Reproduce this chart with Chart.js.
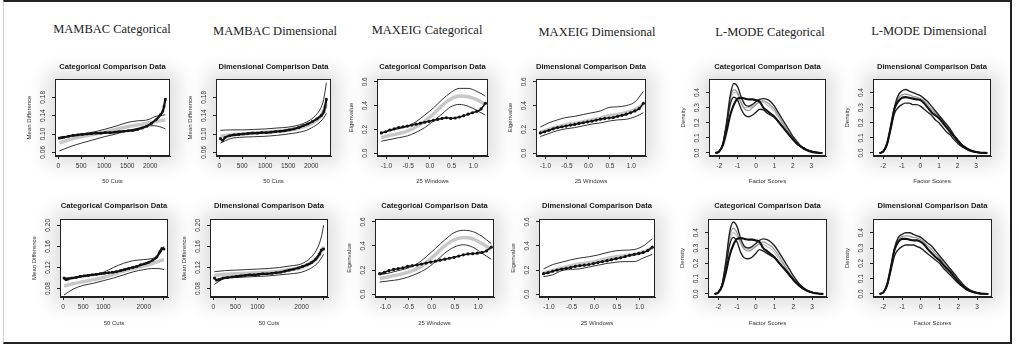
<!DOCTYPE html>
<html><head><meta charset="utf-8">
<script src="https://cdn.jsdelivr.net/npm/chart.js@4.4.1/dist/chart.umd.min.js"></script>
<style>
html,body{margin:0;padding:0;background:#fff;width:1019px;height:352px;overflow:hidden;position:relative}
.frame{position:absolute;left:3px;top:0;width:1006px;height:340px;border-top:2px solid #222;border-right:2px solid #222;border-bottom:2px solid #222;border-left:1px solid #d0d0d0}
.big{position:absolute;font-family:'Liberation Serif','Times New Roman',serif;font-size:12.5px;color:#222;transform:translate(-50%,-50%);white-space:nowrap}
.halo{position:absolute;box-shadow:0 0 18px 8px rgba(0,0,0,0.13)}
canvas{position:absolute}
</style></head><body>
<div class="frame"></div>
<script>
// ---------- DATA ----------
const bigTitles = ['MAMBAC Categorical','MAMBAC Dimensional','MAXEIG Categorical','MAXEIG Dimensional','L-MODE Categorical','L-MODE Dimensional'];

// MAMBAC, row 1
const mambacX1 = [25,75,125,225,325,425,525,625,725,825,925,1025,1125,1225,1325,1425,1525,1625,1725,1825,1925,2025,2125,2225,2275,2300,2330];
const mambacEnvX1 = [25,250,500,750,1000,1250,1500,1750,1900,2000,2100,2200,2270,2330];
const mcCatBlack1 = [0.091,0.092,0.093,0.095,0.097,0.098,0.099,0.100,0.101,0.102,0.102,0.103,0.103,0.104,0.105,0.106,0.107,0.108,0.110,0.113,0.117,0.123,0.131,0.142,0.150,0.160,0.176];
const mcCatUpper1 = [0.090,0.095,0.100,0.104,0.110,0.117,0.125,0.129,0.130,0.133,0.138,0.140,0.141,0.142];
const mcCatGray1  = [0.080,0.088,0.094,0.099,0.104,0.110,0.116,0.120,0.123,0.125,0.127,0.129,0.130,0.131];
const mcCatLower1 = [0.063,0.072,0.080,0.087,0.094,0.100,0.107,0.113,0.117,0.118,0.118,0.116,0.114,0.111];
const mcDimBlack1 = [0.090,0.086,0.092,0.096,0.098,0.099,0.100,0.101,0.102,0.102,0.103,0.103,0.104,0.105,0.106,0.107,0.109,0.111,0.114,0.118,0.122,0.127,0.133,0.141,0.149,0.159,0.176];
const mcDimUpper1 = [0.108,0.109,0.109,0.110,0.111,0.113,0.115,0.120,0.126,0.132,0.141,0.155,0.175,0.212];
const mcDimGray1  = [0.095,0.098,0.100,0.102,0.104,0.106,0.109,0.113,0.118,0.123,0.129,0.138,0.150,0.165];
const mcDimLower1 = [0.080,0.090,0.093,0.094,0.095,0.097,0.100,0.104,0.108,0.113,0.119,0.127,0.135,0.145];
const mcXTicks1 = [0,500,1000,1500,2000];
const mcXLabels1 = ['0','500','1000','1500','2000'];
const mcYTicks1 = [0.06,0.10,0.14,0.18];
const mcYLabels1 = ['0.06','0.10','0.14','0.18'];

// MAMBAC, row 2
const mambacX2 = [25,75,125,225,325,425,525,625,725,825,925,1025,1125,1225,1325,1425,1525,1625,1725,1825,1925,2025,2125,2225,2325,2400,2450,2500];
const mambacEnvX2 = [25,250,500,750,1000,1250,1500,1750,2000,2200,2350,2450,2500];
const mcCatBlack2 = [0.100,0.097,0.098,0.100,0.101,0.103,0.104,0.105,0.106,0.107,0.108,0.109,0.110,0.111,0.112,0.114,0.116,0.118,0.120,0.122,0.125,0.127,0.130,0.134,0.140,0.150,0.156,0.155];
const mcCatUpper2 = [0.100,0.101,0.103,0.106,0.111,0.120,0.128,0.133,0.135,0.137,0.142,0.152,0.160];
const mcCatGray2  = [0.085,0.089,0.093,0.097,0.101,0.107,0.113,0.118,0.123,0.127,0.131,0.134,0.135];
const mcCatLower2 = [0.068,0.079,0.086,0.090,0.095,0.100,0.106,0.112,0.116,0.118,0.118,0.117,0.116];
const mcDimBlack2 = [0.100,0.096,0.097,0.100,0.101,0.102,0.103,0.104,0.105,0.106,0.106,0.107,0.108,0.108,0.109,0.110,0.111,0.113,0.115,0.117,0.119,0.122,0.125,0.129,0.136,0.145,0.153,0.155];
const mcDimUpper2 = [0.112,0.114,0.115,0.116,0.117,0.118,0.120,0.123,0.127,0.138,0.155,0.178,0.200];
const mcDimGray2  = [0.105,0.107,0.108,0.109,0.110,0.111,0.113,0.116,0.120,0.128,0.138,0.150,0.160];
const mcDimLower2 = [0.088,0.099,0.101,0.102,0.103,0.104,0.106,0.108,0.111,0.118,0.127,0.138,0.145];
const mcXTicks2 = [0,500,1000,1500,2000,2500];
const mcXLabels2 = ['0','500','1000','','2000',''];
const mcYTicks2 = [0.08,0.12,0.16,0.20];
const mcYLabels2 = ['0.08','0.12','0.16','0.20'];

// MAXEIG
const maxeigX = [-1.12,-1.02,-0.92,-0.82,-0.72,-0.62,-0.52,-0.42,-0.32,-0.22,-0.12,-0.02,0.08,0.18,0.28,0.38,0.48,0.58,0.68,0.78,0.88,0.98,1.08,1.18,1.28];
const maxeigEnvX = [-1.12,-0.92,-0.72,-0.52,-0.32,-0.12,0.08,0.28,0.48,0.68,0.88,1.08,1.28];
const meCatBlack1 = [0.170,0.180,0.195,0.205,0.215,0.222,0.228,0.236,0.244,0.252,0.260,0.268,0.276,0.284,0.292,0.298,0.292,0.296,0.304,0.315,0.328,0.340,0.352,0.372,0.420];
const meCatUpper1 = [0.170,0.190,0.205,0.225,0.265,0.320,0.380,0.450,0.510,0.545,0.545,0.520,0.480];
const meCatGray1  = [0.130,0.150,0.165,0.185,0.220,0.270,0.330,0.400,0.455,0.480,0.475,0.450,0.410];
const meCatLower1 = [0.100,0.115,0.130,0.145,0.175,0.215,0.270,0.330,0.390,0.410,0.395,0.360,0.320];
const meDimBlack1 = [0.170,0.180,0.192,0.205,0.215,0.222,0.228,0.236,0.242,0.250,0.256,0.264,0.270,0.278,0.286,0.292,0.296,0.300,0.310,0.318,0.328,0.340,0.355,0.375,0.420];
const meDimUpper1 = [0.220,0.255,0.280,0.300,0.310,0.325,0.340,0.355,0.385,0.390,0.400,0.430,0.520];
const meDimGray1  = [0.175,0.200,0.220,0.240,0.252,0.265,0.280,0.295,0.315,0.325,0.340,0.365,0.410];
const meDimLower1 = [0.140,0.165,0.190,0.205,0.215,0.230,0.245,0.255,0.270,0.280,0.285,0.305,0.340];
const meCatBlack2 = [0.170,0.180,0.195,0.205,0.212,0.218,0.230,0.236,0.242,0.250,0.258,0.266,0.274,0.282,0.290,0.298,0.306,0.316,0.326,0.334,0.336,0.340,0.346,0.360,0.390];
const meCatUpper2 = [0.160,0.175,0.195,0.215,0.250,0.310,0.380,0.450,0.510,0.530,0.520,0.480,0.420];
const meCatGray2  = [0.130,0.145,0.160,0.180,0.210,0.260,0.330,0.400,0.450,0.470,0.460,0.420,0.370];
const meCatLower2 = [0.100,0.110,0.120,0.140,0.170,0.210,0.270,0.340,0.390,0.410,0.390,0.340,0.290];
const meDimBlack2 = [0.170,0.178,0.190,0.200,0.208,0.214,0.222,0.230,0.236,0.240,0.246,0.254,0.262,0.270,0.278,0.286,0.294,0.302,0.312,0.322,0.330,0.338,0.346,0.362,0.390];
const meDimUpper2 = [0.210,0.245,0.265,0.285,0.300,0.310,0.325,0.345,0.360,0.365,0.370,0.400,0.460];
const meDimGray2  = [0.175,0.195,0.215,0.235,0.250,0.260,0.275,0.295,0.310,0.320,0.330,0.350,0.385];
const meDimLower2 = [0.145,0.160,0.195,0.205,0.210,0.225,0.240,0.255,0.265,0.270,0.270,0.300,0.330];
const meXTicks = [-1.0,-0.5,0.0,0.5,1.0];
const meXLabels = ['-1.0','-0.5','0.0','0.5','1.0'];
const meYTicks = [0,0.2,0.4,0.6];
const meYLabels = ['0.0','0.2','0.4','0.6'];

// L-MODE
const lmodeX = [-2.2,-2.0,-1.8,-1.6,-1.4,-1.2,-1.0,-0.8,-0.6,-0.4,-0.2,0.0,0.2,0.4,0.6,0.8,1.0,1.2,1.4,1.6,1.8,2.0,2.2,2.4,2.6,2.8,3.0,3.2,3.4,3.6];
const lmCatA1 = [0,0.01,0.06,0.20,0.38,0.46,0.44,0.37,0.32,0.31,0.32,0.34,0.355,0.36,0.355,0.34,0.31,0.27,0.23,0.19,0.15,0.11,0.08,0.05,0.035,0.02,0.01,0.005,0.002,0];
const lmCatG1a = [0,0.01,0.06,0.19,0.36,0.42,0.40,0.33,0.29,0.28,0.30,0.32,0.34,0.345,0.335,0.315,0.29,0.25,0.21,0.17,0.13,0.10,0.07,0.045,0.03,0.018,0.01,0.005,0.002,0];
const lmCatG1b = [0,0.01,0.06,0.19,0.34,0.40,0.39,0.33,0.30,0.30,0.31,0.325,0.335,0.335,0.32,0.30,0.275,0.24,0.20,0.165,0.13,0.095,0.065,0.045,0.03,0.018,0.01,0.005,0.002,0];
const lmCatB1 = [0,0.01,0.06,0.18,0.32,0.37,0.35,0.29,0.25,0.24,0.25,0.27,0.29,0.285,0.265,0.25,0.235,0.21,0.18,0.15,0.12,0.09,0.065,0.045,0.03,0.018,0.01,0.005,0.002,0];
const lmCatC1 = [0,0.01,0.05,0.14,0.25,0.32,0.36,0.365,0.36,0.355,0.355,0.35,0.34,0.30,0.28,0.26,0.24,0.21,0.18,0.15,0.12,0.09,0.065,0.045,0.028,0.017,0.009,0.004,0.001,0];
const lmDimU1 = [0,0.01,0.06,0.17,0.30,0.38,0.41,0.42,0.41,0.40,0.39,0.38,0.36,0.34,0.31,0.28,0.25,0.22,0.19,0.16,0.12,0.09,0.06,0.04,0.025,0.015,0.008,0.003,0.001,0];
const lmDimG1 = [0,0.01,0.06,0.17,0.295,0.36,0.385,0.39,0.385,0.375,0.37,0.36,0.345,0.32,0.29,0.265,0.24,0.21,0.18,0.15,0.115,0.085,0.058,0.038,0.022,0.013,0.007,0.003,0.001,0];
const lmDimK1 = [0,0.01,0.06,0.17,0.29,0.34,0.365,0.37,0.365,0.36,0.355,0.35,0.33,0.30,0.27,0.25,0.23,0.20,0.17,0.14,0.11,0.08,0.055,0.035,0.02,0.012,0.006,0.002,0.001,0];
const lmDimL1 = [0,0.01,0.05,0.15,0.26,0.30,0.32,0.33,0.33,0.32,0.32,0.31,0.29,0.27,0.25,0.22,0.20,0.17,0.14,0.12,0.09,0.065,0.045,0.03,0.02,0.01,0.005,0.002,0.001,0];
const lmCatA2 = [0,0.01,0.06,0.21,0.40,0.47,0.44,0.36,0.31,0.30,0.31,0.33,0.35,0.36,0.355,0.34,0.315,0.28,0.24,0.20,0.16,0.12,0.085,0.055,0.035,0.02,0.01,0.005,0.002,0];
const lmCatG2a = [0,0.01,0.06,0.20,0.37,0.43,0.40,0.33,0.29,0.28,0.29,0.31,0.33,0.34,0.33,0.315,0.29,0.255,0.215,0.175,0.135,0.10,0.07,0.045,0.03,0.018,0.01,0.005,0.002,0];
const lmCatG2b = [0,0.01,0.06,0.19,0.34,0.40,0.38,0.33,0.30,0.29,0.30,0.315,0.325,0.325,0.31,0.295,0.27,0.235,0.20,0.165,0.13,0.095,0.065,0.045,0.03,0.018,0.01,0.005,0.002,0];
const lmCatB2 = [0,0.01,0.06,0.18,0.32,0.37,0.34,0.27,0.235,0.23,0.24,0.265,0.29,0.28,0.265,0.25,0.235,0.21,0.18,0.15,0.12,0.09,0.065,0.045,0.03,0.018,0.01,0.005,0.002,0];
const lmCatC2 = [0,0.01,0.05,0.14,0.25,0.32,0.36,0.365,0.36,0.355,0.355,0.35,0.34,0.30,0.28,0.26,0.24,0.21,0.18,0.155,0.125,0.095,0.07,0.048,0.03,0.018,0.01,0.004,0.001,0];
const lmDimU2 = [0,0.01,0.06,0.17,0.30,0.37,0.39,0.40,0.40,0.39,0.38,0.37,0.35,0.33,0.31,0.28,0.25,0.22,0.19,0.16,0.13,0.10,0.07,0.045,0.028,0.016,0.008,0.003,0.001,0];
const lmDimG2 = [0,0.01,0.06,0.17,0.295,0.355,0.375,0.38,0.378,0.37,0.365,0.355,0.335,0.31,0.29,0.26,0.235,0.205,0.178,0.15,0.12,0.09,0.062,0.04,0.024,0.014,0.007,0.003,0.001,0];
const lmDimK2 = [0,0.01,0.06,0.17,0.29,0.34,0.36,0.36,0.355,0.35,0.35,0.34,0.32,0.29,0.265,0.24,0.22,0.19,0.165,0.14,0.11,0.08,0.055,0.035,0.02,0.012,0.006,0.002,0.001,0];
const lmDimL2 = [0,0.01,0.05,0.15,0.25,0.29,0.31,0.32,0.32,0.32,0.31,0.30,0.28,0.26,0.24,0.22,0.20,0.17,0.145,0.12,0.095,0.07,0.05,0.032,0.02,0.011,0.005,0.002,0.001,0];
const lmXTicks = [-2,-1,0,1,2,3];
const lmXLabels = ['-2','-1','0','1','2','3'];
const lmYTicks = [0,0.1,0.2,0.3,0.4];
const lmYLabels = ['0.0','0.1','0.2','0.3','0.4'];

// ---------- STYLES ----------
const FONT = "'Liberation Sans', Arial, Helvetica, sans-serif";
const ST = {
  mcBlack: {borderColor:'#111', borderWidth:2.2, pointRadius:1.8, pointStyle:'rect', pointBackgroundColor:'#111', pointBorderColor:'#111', pointBorderWidth:0},
  meBlack: {borderColor:'#111', borderWidth:1.5, pointRadius:1.6, pointStyle:'circle', pointBackgroundColor:'#111', pointBorderColor:'#111', pointBorderWidth:0},
  thin: {borderColor:'#1c1c1c', borderWidth:0.9},
  gray: {borderColor:'#c8c8c8', borderWidth:3.5},
  lmThick: {borderColor:'#111', borderWidth:2.1},
  lmDark: {borderColor:'#222', borderWidth:1.4},
  lmMid: {borderColor:'#9a9a9a', borderWidth:1.3},
  lmLight: {borderColor:'#c4c4c4', borderWidth:1.3}
};
function line(xs, ys, st){
  return Object.assign({data: xs.map((x,i)=>({x:x, y:ys[i]})), pointRadius:0, fill:false, cubicInterpolationMode:'monotone'}, st);
}

const R1 = {t:79, b:156, subY:67, xtY:181};
const R2 = {t:219, b:297, subY:206, xtY:323};
const panels = [
  {row:R1, l:55, r:170, title:'Categorical Comparison Data', yT:'Mean Difference', xT:'50 Cuts', xr:[-70,2430], yr:[0.052,0.22], xt:mcXTicks1, xl:mcXLabels1, yt:mcYTicks1, yl:mcYLabels1,
   sets:[line(mambacX1,mcCatBlack1,ST.mcBlack), line(mambacEnvX1,mcCatUpper1,ST.thin), line(mambacEnvX1,mcCatLower1,ST.thin), line(mambacEnvX1,mcCatGray1,ST.gray)]},
  {row:R1, l:216, r:331, title:'Dimensional Comparison Data', yT:'Mean Difference', xT:'50 Cuts', xr:[-70,2430], yr:[0.052,0.22], xt:mcXTicks1, xl:mcXLabels1, yt:mcYTicks1, yl:mcYLabels1,
   sets:[line(mambacX1,mcDimBlack1,ST.mcBlack), line(mambacEnvX1,mcDimUpper1,ST.thin), line(mambacEnvX1,mcDimLower1,ST.thin), line(mambacEnvX1,mcDimGray1,ST.gray)]},
  {row:R1, l:377, r:488, title:'Categorical Comparison Data', yT:'Eigenvalue', xT:'25 Windows', xr:[-1.22,1.34], yr:[-0.024,0.624], xt:meXTicks, xl:meXLabels, yt:meYTicks, yl:meYLabels,
   sets:[line(maxeigX,meCatBlack1,ST.meBlack), line(maxeigEnvX,meCatUpper1,ST.thin), line(maxeigEnvX,meCatLower1,ST.thin), line(maxeigEnvX,meCatGray1,ST.gray)]},
  {row:R1, l:536, r:646, title:'Dimensional Comparison Data', yT:'Eigenvalue', xT:'25 Windows', xr:[-1.22,1.34], yr:[-0.024,0.624], xt:meXTicks, xl:meXLabels, yt:meYTicks, yl:meYLabels,
   sets:[line(maxeigX,meDimBlack1,ST.meBlack), line(maxeigEnvX,meDimUpper1,ST.thin), line(maxeigEnvX,meDimLower1,ST.thin), line(maxeigEnvX,meDimGray1,ST.gray)]},
  {row:R1, l:709, r:826, title:'Categorical Comparison Data', yT:'Density', xT:'Factor Scores', xr:[-2.55,3.8], yr:[-0.02,0.49], xt:lmXTicks, xl:lmXLabels, yt:lmYTicks, yl:lmYLabels,
   sets:[line(lmodeX,lmCatC1,ST.lmThick), line(lmodeX,lmCatB1,ST.lmDark), line(lmodeX,lmCatA1,ST.lmDark), line(lmodeX,lmCatG1a,ST.lmMid), line(lmodeX,lmCatG1b,ST.lmLight)]},
  {row:R1, l:873, r:991, title:'Dimensional Comparison Data', yT:'Density', xT:'Factor Scores', xr:[-2.55,3.8], yr:[-0.02,0.49], xt:lmXTicks, xl:lmXLabels, yt:lmYTicks, yl:lmYLabels,
   sets:[line(lmodeX,lmDimK1,ST.lmThick), line(lmodeX,lmDimU1,ST.lmDark), line(lmodeX,lmDimL1,ST.lmDark), line(lmodeX,lmDimG1,ST.lmMid)]},

  {row:R2, l:60, r:168, title:'Categorical Comparison Data', yT:'Mean Difference', xT:'50 Cuts', xr:[-75,2600], yr:[0.064,0.212], xt:mcXTicks2, xl:mcXLabels2, yt:mcYTicks2, yl:mcYLabels2,
   sets:[line(mambacX2,mcCatBlack2,ST.mcBlack), line(mambacEnvX2,mcCatUpper2,ST.thin), line(mambacEnvX2,mcCatLower2,ST.thin), line(mambacEnvX2,mcCatGray2,ST.gray)]},
  {row:R2, l:210, r:328, title:'Dimensional Comparison Data', yT:'Mean Difference', xT:'50 Cuts', xr:[-75,2600], yr:[0.064,0.212], xt:mcXTicks2, xl:mcXLabels2, yt:mcYTicks2, yl:mcYLabels2,
   sets:[line(mambacX2,mcDimBlack2,ST.mcBlack), line(mambacEnvX2,mcDimUpper2,ST.thin), line(mambacEnvX2,mcDimLower2,ST.thin), line(mambacEnvX2,mcDimGray2,ST.gray)]},
  {row:R2, l:375, r:494, title:'Categorical Comparison Data', yT:'Eigenvalue', xT:'25 Windows', xr:[-1.22,1.34], yr:[-0.024,0.624], xt:meXTicks, xl:meXLabels, yt:meYTicks, yl:meYLabels,
   sets:[line(maxeigX,meCatBlack2,ST.meBlack), line(maxeigEnvX,meCatUpper2,ST.thin), line(maxeigEnvX,meCatLower2,ST.thin), line(maxeigEnvX,meCatGray2,ST.gray)]},
  {row:R2, l:539, r:655, title:'Dimensional Comparison Data', yT:'Eigenvalue', xT:'25 Windows', xr:[-1.22,1.34], yr:[-0.024,0.624], xt:meXTicks, xl:meXLabels, yt:meYTicks, yl:meYLabels,
   sets:[line(maxeigX,meDimBlack2,ST.meBlack), line(maxeigEnvX,meDimUpper2,ST.thin), line(maxeigEnvX,meDimLower2,ST.thin), line(maxeigEnvX,meDimGray2,ST.gray)]},
  {row:R2, l:708, r:827, title:'Categorical Comparison Data', yT:'Density', xT:'Factor Scores', xr:[-2.55,3.8], yr:[-0.02,0.49], xt:lmXTicks, xl:lmXLabels, yt:lmYTicks, yl:lmYLabels,
   sets:[line(lmodeX,lmCatC2,ST.lmThick), line(lmodeX,lmCatB2,ST.lmDark), line(lmodeX,lmCatA2,ST.lmDark), line(lmodeX,lmCatG2a,ST.lmMid), line(lmodeX,lmCatG2b,ST.lmLight)]},
  {row:R2, l:873, r:992, title:'Dimensional Comparison Data', yT:'Density', xT:'Factor Scores', xr:[-2.55,3.8], yr:[-0.02,0.49], xt:lmXTicks, xl:lmXLabels, yt:lmYTicks, yl:lmYLabels,
   sets:[line(lmodeX,lmDimK2,ST.lmThick), line(lmodeX,lmDimU2,ST.lmDark), line(lmodeX,lmDimL2,ST.lmDark), line(lmodeX,lmDimG2,ST.lmMid)]}
];

// big titles
const bigPos = [[112,29],[275,31],[427,30],[597,32],[770,32],[929,31]];
bigTitles.forEach((t,i)=>{
  const d=document.createElement('div'); d.className='big'; d.textContent=t;
  d.style.left=bigPos[i][0]+'px'; d.style.top=bigPos[i][1]+'px'; document.body.appendChild(d);
});

const rPlot = {
  id:'rPlot',
  afterDraw(chart, args, opts){
    const ctx=chart.ctx, a=chart.chartArea, y=chart.scales.y;
    ctx.save();
    ctx.strokeStyle='#222'; ctx.lineWidth=1;
    ctx.strokeRect(Math.round(a.left)+0.5, Math.round(a.top)+0.5, Math.round(a.right-a.left)-1, Math.round(a.bottom-a.top)-1);
    ctx.fillStyle='#333'; ctx.font='6.5px '+FONT; ctx.textAlign='center'; ctx.textBaseline='middle';
    y.ticks.forEach((t,i)=>{
      const py=y.getPixelForValue(t.value);
      ctx.save(); ctx.translate(a.left-11.5, py); ctx.rotate(-Math.PI/2); ctx.fillText(opts.labels[i],0,0); ctx.restore();
    });
    ctx.restore();
  }
};

const YW=36, TH=26, XH=34;
panels.forEach(p=>{
  const R=p.row;
  const halo=document.createElement('div'); halo.className='halo';
  Object.assign(halo.style,{left:p.l+'px',top:R.t+'px',width:(p.r-p.l)+'px',height:(R.b-R.t)+'px'});
  document.body.appendChild(halo);
  const cv=document.createElement('canvas');
  const W=(p.r-p.l)+2*YW, H=TH+(R.b-R.t)+XH;
  cv.width=W; cv.height=H; cv.style.left=(p.l-YW)+'px'; cv.style.top=(R.t-TH)+'px';
  cv.style.width=W+'px'; cv.style.height=H+'px';
  document.body.appendChild(cv);
  const fs=7.6, lh=fs*1.2;
  const pt = R.subY-(R.t-TH)-lh/2, pb = TH-lh-pt;
  const xPadB = (R.b+XH-R.xtY)-3.6;
  const gridOpt={drawOnChartArea:false, drawTicks:true, tickLength:3, color:'#222', lineWidth:1};
  new Chart(cv,{
    type:'line',
    data:{datasets:p.sets},
    plugins:[rPlot],
    options:{
      responsive:false, animation:false, events:[],
      layout:{padding:0},
      plugins:{
        legend:{display:false}, tooltip:{enabled:false},
        title:{display:true, text:p.title, color:'#1a1a1a', font:{family:FONT,size:fs,weight:'bold'}, padding:{top:pt,bottom:pb}},
        rPlot:{labels:p.yl}
      },
      scales:{
        x:{type:'linear', min:p.xr[0], max:p.xr[1],
           afterBuildTicks:s=>{s.ticks=p.xt.map(v=>({value:v}));},
           afterFit:s=>{s.height=XH;},
           grid:gridOpt, border:{display:true,color:'#222',width:1},
           ticks:{autoSkip:false, maxRotation:0, minRotation:0, padding:3, color:'#333', font:{family:FONT,size:6.5}, callback:(v,i)=>p.xl[i]},
           title:{display:true, text:p.xT, color:'#333', font:{family:FONT,size:6}, padding:{top:0,bottom:xPadB}}},
        y:{type:'linear', position:'left', min:p.yr[0], max:p.yr[1],
           afterBuildTicks:s=>{s.ticks=p.yt.map(v=>({value:v}));},
           afterFit:s=>{s.width=YW;},
           grid:gridOpt, border:{display:true,color:'#222',width:1},
           ticks:{display:false},
           title:{display:true, text:p.yT, color:'#333', font:{family:FONT,size:6}, padding:{top:6.4,bottom:0}}},
        spacer:{type:'linear', position:'right', min:0, max:1, display:true,
           afterFit:s=>{s.width=YW;},
           grid:{display:false, drawTicks:false}, border:{display:false},
           ticks:{display:false}, title:{display:false}}
      }
    }
  });
});
</script>
</body></html>
